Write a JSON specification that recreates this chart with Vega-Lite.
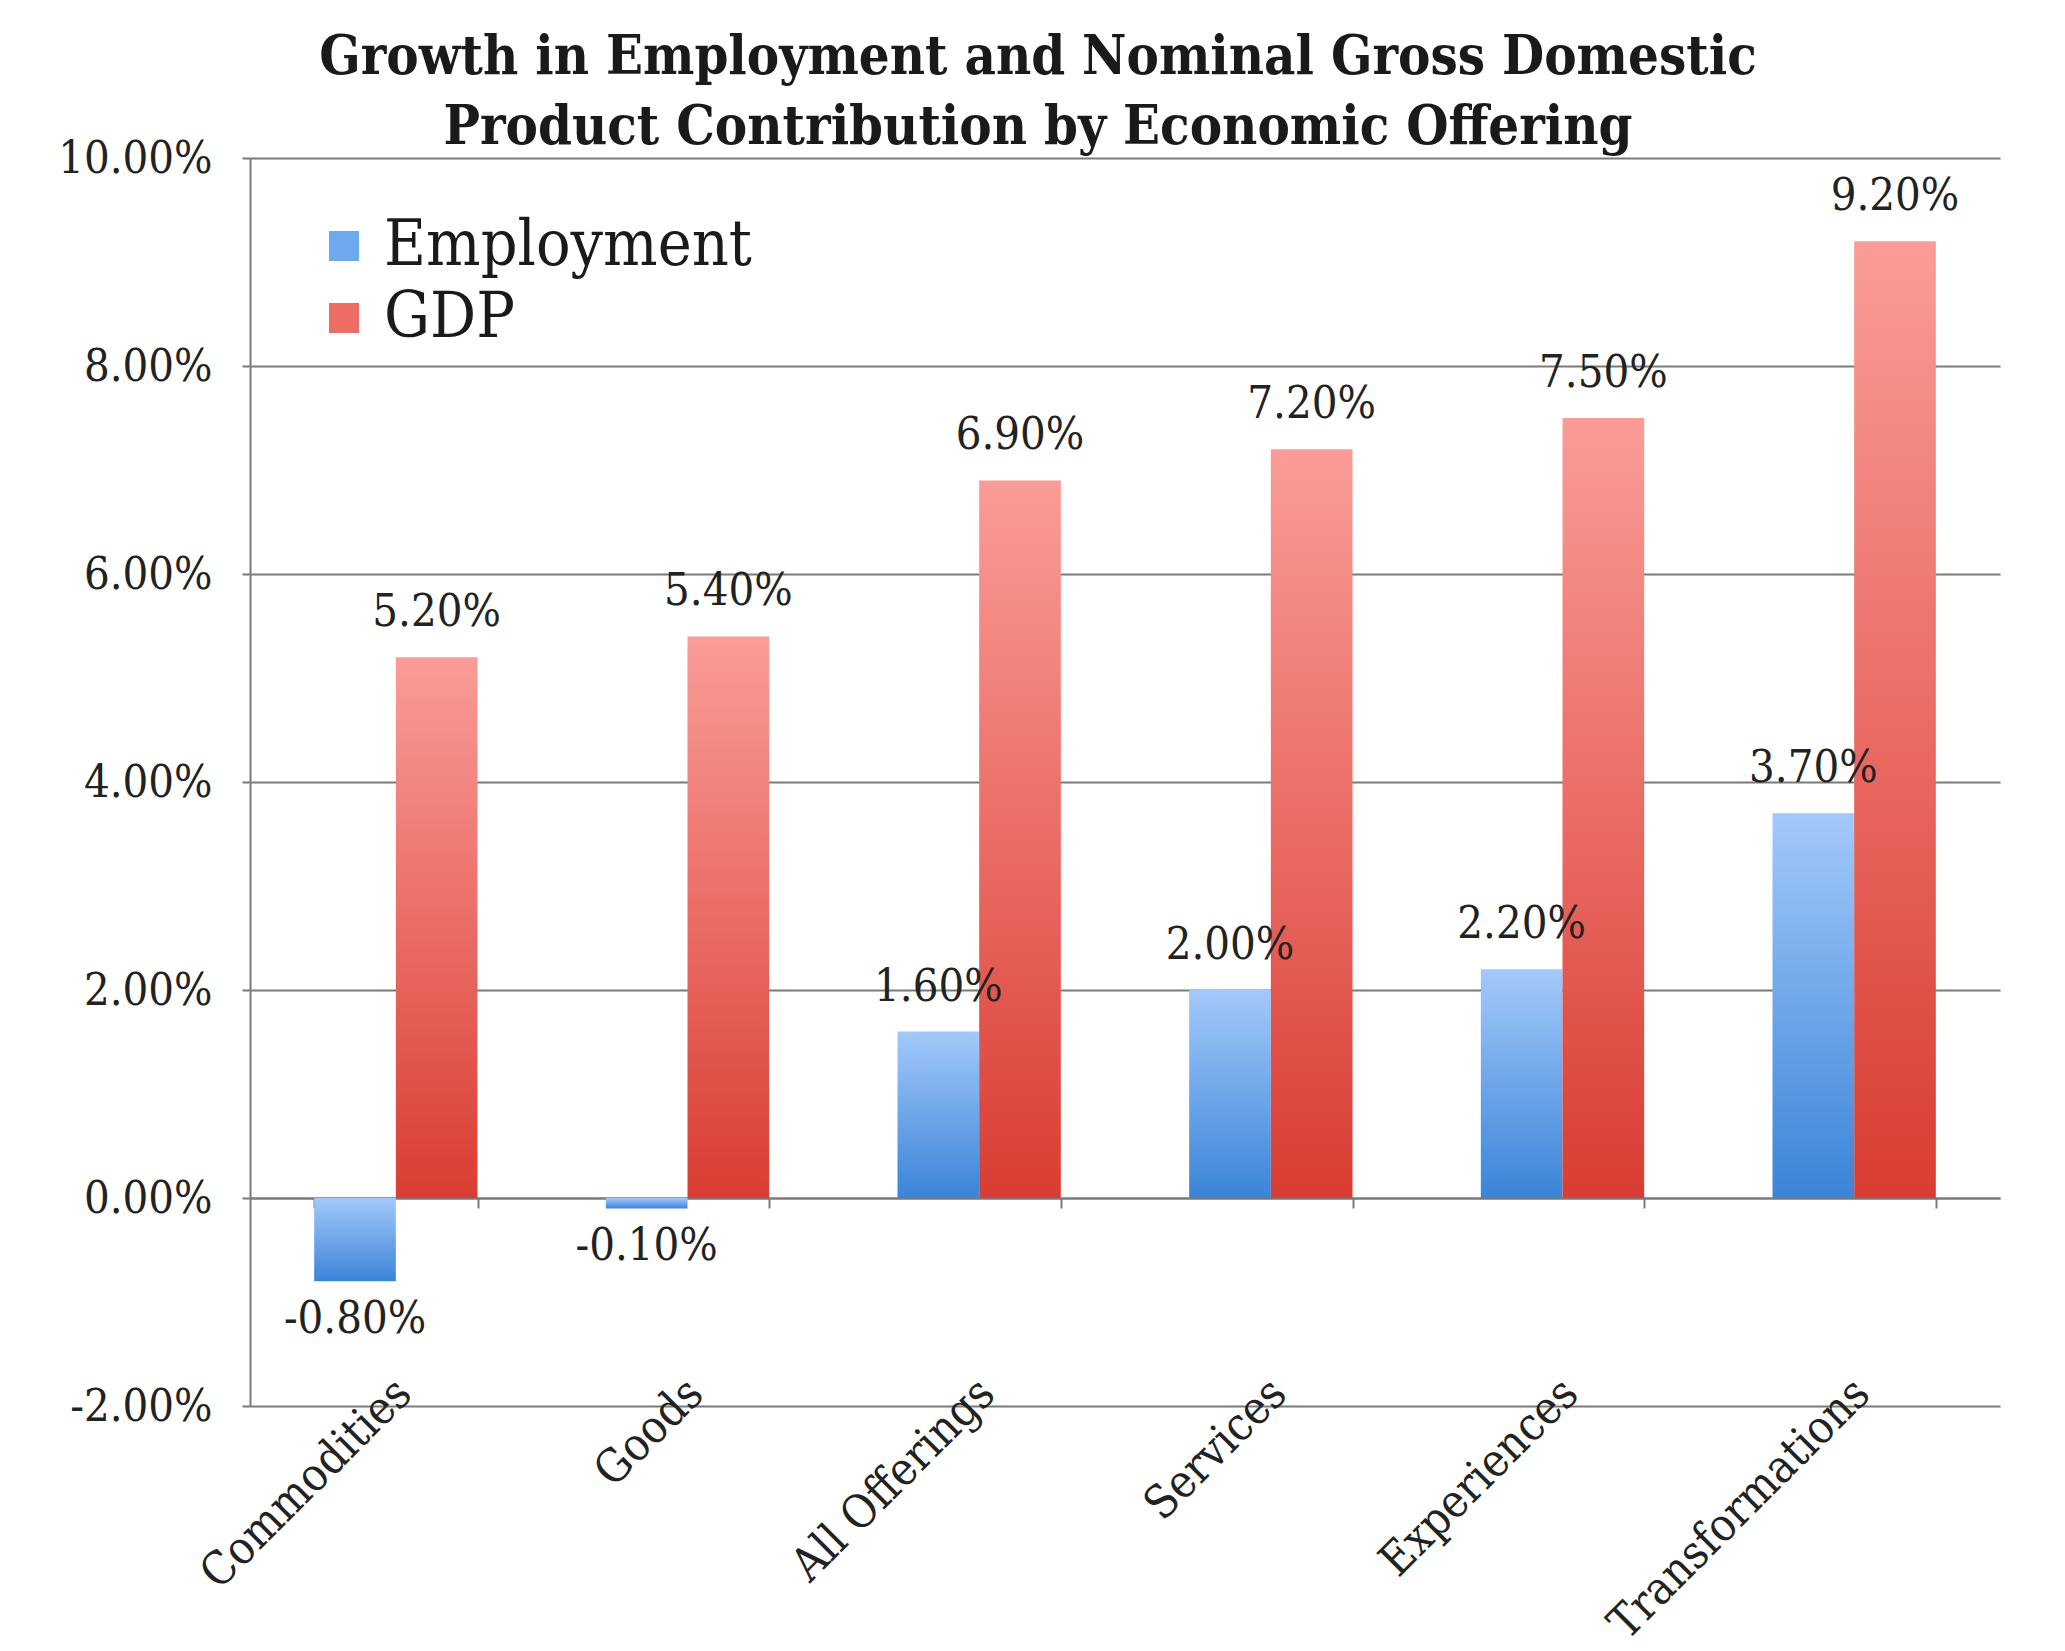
{
  "$schema": "https://vega.github.io/schema/vega-lite/v6.json",
  "width": 1750,
  "height": 1248,
  "autosize": {"type": "none"},
  "padding": {"left": 250, "top": 158, "right": 65, "bottom": 245},
  "background": "white",
  "title": {
    "text": ["Growth in Employment and Nominal Gross Domestic", "Product Contribution by Economic Offering"],
    "font": "DejaVu Serif Condensed, DejaVu Serif, serif",
    "fontWeight": "bold",
    "fontSize": 54,
    "lineHeight": 70,
    "color": "#1a1a1a",
    "anchor": "middle",
    "frame": "group",
    "dx": -87,
    "offset": -19
  },
  "data": {
    "values": [
      {"offering": "Commodities", "series": "Employment", "value": -0.008},
      {"offering": "Commodities", "series": "GDP", "value": 0.052},
      {"offering": "Goods", "series": "Employment", "value": -0.001},
      {"offering": "Goods", "series": "GDP", "value": 0.054},
      {"offering": "All Offerings", "series": "Employment", "value": 0.016},
      {"offering": "All Offerings", "series": "GDP", "value": 0.069},
      {"offering": "Services", "series": "Employment", "value": 0.020},
      {"offering": "Services", "series": "GDP", "value": 0.072},
      {"offering": "Experiences", "series": "Employment", "value": 0.022},
      {"offering": "Experiences", "series": "GDP", "value": 0.075},
      {"offering": "Transformations", "series": "Employment", "value": 0.037},
      {"offering": "Transformations", "series": "GDP", "value": 0.092}
    ]
  },
  "resolve": {"axis": {"x": "independent"}},
  "layer": [
    {
      "transform": [{"filter": "datum.series === 'Employment'"}],
      "mark": {"type": "bar", "color": {"gradient": "linear", "x1": 0, "y1": 0, "x2": 0, "y2": 1,
               "stops": [{"offset": 0, "color": "#a3c9fa"}, {"offset": 1, "color": "#3a84d8"}]}},
      "encoding": {
        "x": {
          "field": "offering", "type": "nominal", "sort": null,
          "scale": {"paddingInner": 0.44, "paddingOuter": 0.22},
          "axis": {
            "orient": "bottom", "title": null, "domain": false, "ticks": false, "grid": false,
            "labelAngle": -45, "labelAlign": "right", "labelBaseline": "middle",
            "labelPadding": -20, "labelOffset": 8, "labelLimit": 0,
            "labelFont": "DejaVu Serif Condensed, DejaVu Serif, serif", "labelFontSize": 46,
            "labelColor": "#222222"
          }
        },
        "xOffset": {"field": "series", "type": "nominal", "sort": ["Employment", "GDP"]},
        "y": {
          "field": "value", "type": "quantitative",
          "scale": {"domain": [-0.02, 0.1], "nice": false, "zero": true},
          "axis": {
            "title": null, "values": [-0.02, 0, 0.02, 0.04, 0.06, 0.08, 0.1], "format": ".2%",
            "grid": true, "gridColor": "#7a7a7a", "gridWidth": 2,
            "domain": true, "domainColor": "#7a7a7a", "domainWidth": 2,
            "ticks": true, "tickColor": "#7a7a7a", "tickWidth": 2, "tickSize": 8,
            "labelPadding": 30,
            "labelFont": "DejaVu Serif Condensed, DejaVu Serif, serif", "labelFontSize": 45,
            "labelColor": "#222222"
          }
        }
      }
    },
    {
      "transform": [{"filter": "datum.series === 'GDP'"}],
      "mark": {"type": "bar", "color": {"gradient": "linear", "x1": 0, "y1": 0, "x2": 0, "y2": 1,
               "stops": [{"offset": 0, "color": "#fa9c97"}, {"offset": 1, "color": "#d93d33"}]}},
      "encoding": {
        "x": {"field": "offering", "type": "nominal", "sort": null, "axis": null},
        "xOffset": {"field": "series", "type": "nominal", "sort": ["Employment", "GDP"]},
        "y": {"field": "value", "type": "quantitative"}
      }
    },
    {
      "mark": {"type": "square", "size": 0, "opacity": 0},
      "encoding": {
        "x": {"field": "offering", "type": "nominal", "sort": null, "axis": null},
        "xOffset": {"field": "series", "type": "nominal", "sort": ["Employment", "GDP"]},
        "y": {"field": "value", "type": "quantitative"},
        "color": {
          "field": "series", "type": "nominal",
          "scale": {"domain": ["Employment", "GDP"], "range": ["#6ea8ee", "#ec6d64"]},
          "legend": {
            "title": null, "orient": "none", "legendX": 62, "legendY": 56,
            "symbolType": "square", "symbolSize": 900, "symbolStrokeWidth": 0, "symbolOpacity": 1,
            "labelFont": "DejaVu Serif Condensed, DejaVu Serif, serif", "labelFontSize": 64,
            "labelColor": "#1a1a1a", "labelOffset": 8, "labelLimit": 0, "rowPadding": 8, "padding": 0
          }
        }
      }
    },
    {
      "transform": [{"filter": "datum.value >= 0"}],
      "mark": {"type": "text", "dy": -45, "baseline": "middle", "align": "center",
               "font": "DejaVu Serif Condensed, DejaVu Serif, serif", "fontSize": 45, "color": "#222222"},
      "encoding": {
        "x": {
          "field": "offering", "type": "nominal", "sort": null,
          "axis": {
            "orient": "bottom", "offset": -208, "title": null, "labels": false, "grid": false,
            "domain": true, "domainColor": "#7a7a7a", "domainWidth": 2,
            "ticks": true, "tickBand": "extent", "tickColor": "#7a7a7a", "tickWidth": 2, "tickSize": 10
          }
        },
        "xOffset": {"field": "series", "type": "nominal", "sort": ["Employment", "GDP"]},
        "y": {"field": "value", "type": "quantitative"},
        "text": {"field": "value", "type": "quantitative", "format": ".2%"}
      }
    },
    {
      "transform": [{"filter": "datum.value < 0"}],
      "mark": {"type": "text", "dy": 38, "baseline": "middle", "align": "center",
               "font": "DejaVu Serif Condensed, DejaVu Serif, serif", "fontSize": 45, "color": "#222222"},
      "encoding": {
        "x": {"field": "offering", "type": "nominal", "sort": null, "axis": null},
        "xOffset": {"field": "series", "type": "nominal", "sort": ["Employment", "GDP"]},
        "y": {"field": "value", "type": "quantitative"},
        "text": {"field": "value", "type": "quantitative", "format": ".2%"}
      }
    }
  ],
  "config": {
    "view": {"stroke": null},
    "locale": {"number": {"decimal": ".", "thousands": ",", "grouping": [3], "currency": ["$", ""], "minus": "-"}}
  }
}
